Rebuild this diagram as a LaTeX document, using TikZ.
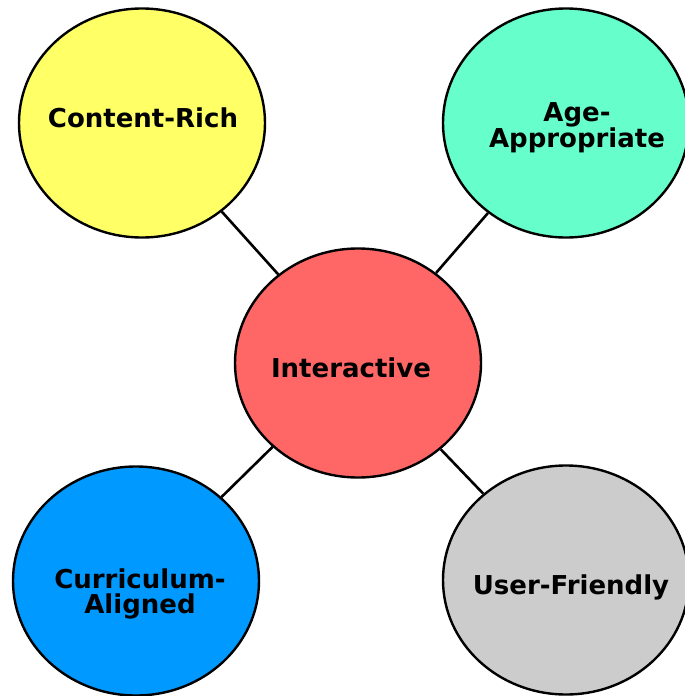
\documentclass[tikz,border=0pt]{standalone}
\usepackage{fontspec}
\setmainfont{DejaVu Sans}
\usetikzlibrary{shapes.geometric}
\definecolor{bubred}{RGB}{255,102,102}
\definecolor{bubyellow}{RGB}{255,255,102}
\definecolor{bubteal}{RGB}{102,255,204}
\definecolor{bubblue}{RGB}{0,153,255}
\definecolor{bubgray}{RGB}{204,204,204}
\begin{document}
\begin{tikzpicture}[x=1pt,y=-1pt,
  bubble/.style={ellipse,draw,line width=2.4pt,minimum width=246pt,minimum height=229pt,inner sep=0pt},
  bubtext/.style={align=center,font=\bfseries\fontsize{26}{25}\selectfont},
  link/.style={line width=2.6pt}]
\useasboundingbox (0,0) rectangle (685,696);
\node[bubble,fill=bubred,label={[bubtext,xshift=-7pt,yshift=-5pt]center:Interactive}](int) at (358,363) {};
\foreach \nm/\kx/\ky/\col/\dx/\dy/\lb in {cr/142/123/bubyellow/1/-5/{Content-Rich},aa/566/123/bubteal/11/5/{Age-\\Appropriate},ca/136/581/bubblue/4/13/{Curriculum-\\Aligned},uf/566/580/bubgray/5/7/{User-Friendly}}{
  \node[bubble,fill=\col,label={[bubtext,xshift=\dx pt,yshift=-\dy pt]center:{\lb}}](\nm) at (\kx,\ky) {};
  \draw[link](\nm)--(int);
}
\end{tikzpicture}
\end{document}
